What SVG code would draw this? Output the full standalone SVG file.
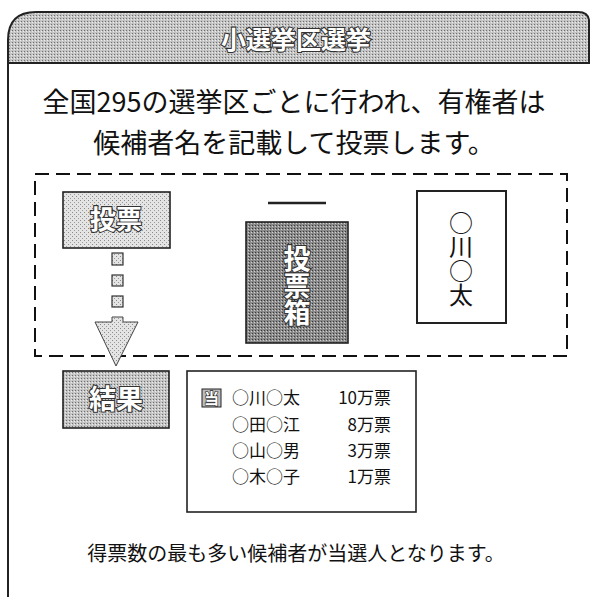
<svg xmlns="http://www.w3.org/2000/svg" width="590" height="597" viewBox="0 0 590 597">
<defs>
<pattern id="dotLight" width="4" height="4" patternUnits="userSpaceOnUse">
<rect width="4" height="4" fill="#e4e4e4"/>
<rect x="0" y="0" width="1" height="1" fill="#8a8a8a"/>
<rect x="2" y="2" width="1" height="1" fill="#9a9a9a"/>
</pattern>
<pattern id="dotMid" width="3" height="3" patternUnits="userSpaceOnUse">
<rect width="3" height="3" fill="#c4c4c4"/>
<rect x="0" y="0" width="1" height="1" fill="#6e6e6e"/>
<rect x="2" y="1" width="1" height="1" fill="#eeeeee"/>
</pattern>
<pattern id="dotDark" width="3" height="3" patternUnits="userSpaceOnUse">
<rect width="3" height="3" fill="#8a8a8a"/>
<rect x="0" y="0" width="1" height="1" fill="#3a3a3a"/>
<rect x="2" y="1" width="1" height="1" fill="#d0d0d0"/>
</pattern>
<style>
.jp{font-family:"Noto Sans CJK JP","Noto Sans CJK SC",sans-serif;fill:#111}
.lbl{font-family:"Noto Sans CJK JP","Noto Sans CJK SC",sans-serif;fill:#fff;stroke:#333;stroke-width:2.2;paint-order:stroke;font-weight:bold;text-anchor:middle}
.box{stroke:#222;stroke-width:1.6}
.row{font-family:"Noto Sans CJK JP","Noto Sans CJK SC",sans-serif;fill:#111;font-size:17px}
.vert{writing-mode:vertical-rl;text-anchor:middle}
</style>
</defs>

<g id="frame">
<path d="M8,63 L8,40 Q8,12 36,12 L578,12 Q588,12 589,20 L589,63 Z" fill="url(#dotMid)" stroke="#222" stroke-width="2"/>
<line x1="8" y1="63" x2="8" y2="597" stroke="#222" stroke-width="2"/>
</g>

<g id="title">
<text class="lbl" x="296" y="49" font-size="25">小選挙区選挙</text>
</g>

<g id="intro">
<text class="jp" x="294" y="112" font-size="27" text-anchor="middle">全国295の選挙区ごとに行われ、有権者は</text>
<text class="jp" x="294" y="153" font-size="27" text-anchor="middle">候補者名を記載して投票します。</text>
</g>

<g id="booth">
<rect x="35" y="174" width="532" height="182" fill="none" stroke="#111" stroke-width="2" stroke-dasharray="14 7"/>
</g>

<g id="vote">
<rect class="box" x="63" y="192" width="107" height="56" fill="url(#dotLight)"/>
<text class="lbl" x="116" y="229" font-size="26" stroke="#555">投票</text>
</g>

<g id="connectors">
<rect x="112" y="253" width="11" height="12" fill="url(#dotLight)" stroke="#333" stroke-width="1.2"/>
<rect x="112" y="275" width="11" height="11" fill="url(#dotLight)" stroke="#333" stroke-width="1.2"/>
<rect x="112" y="296" width="11" height="11" fill="url(#dotLight)" stroke="#333" stroke-width="1.2"/>
<path d="M112,317 L123,317 L123,322 L138,322 L116,366 L95,322 L112,322 Z" fill="url(#dotLight)" stroke="#444" stroke-width="1"/>
</g>

<g id="ballotbox">
<line x1="268" y1="203" x2="326" y2="203" stroke="#222" stroke-width="2.5"/>
<rect class="box" x="246" y="222" width="102" height="121" fill="url(#dotDark)"/>
<text class="lbl vert" font-size="27" x="297" y="286">投票箱</text>
</g>

<g id="ballot">
<rect x="417" y="191" width="89" height="132" fill="#fff" stroke="#222" stroke-width="2"/>
<text class="jp vert" font-size="24" x="461" y="259">○川○太</text>
</g>

<g id="result">
<rect class="box" x="63" y="371" width="106" height="57" fill="url(#dotMid)"/>
<text class="lbl" x="116" y="409" font-size="27">結果</text>
</g>

<g id="results-table">
<rect x="187" y="371" width="229" height="141" fill="#fff" stroke="#222" stroke-width="1.6"/>
<rect x="202" y="389" width="19" height="18" fill="#bbb" stroke="#222" stroke-width="1"/>
<text x="211.5" y="404" font-size="15" text-anchor="middle" font-family="Noto Sans CJK JP, sans-serif" font-weight="bold" fill="#fff" stroke="#222" stroke-width="1.2" paint-order="stroke">当</text>
<text class="row" x="232" y="404">○川○太</text>
<text class="row" x="391" y="404" text-anchor="end">10万票</text>
<text class="row" x="232" y="431">○田○江</text>
<text class="row" x="391" y="431" text-anchor="end">8万票</text>
<text class="row" x="232" y="457">○山○男</text>
<text class="row" x="391" y="457" text-anchor="end">3万票</text>
<text class="row" x="232" y="483">○木○子</text>
<text class="row" x="391" y="483" text-anchor="end">1万票</text>
</g>

<g id="note">
<text class="jp" x="296" y="561" font-size="20" text-anchor="middle">得票数の最も多い候補者が当選人となります。</text>
</g>
</svg>
